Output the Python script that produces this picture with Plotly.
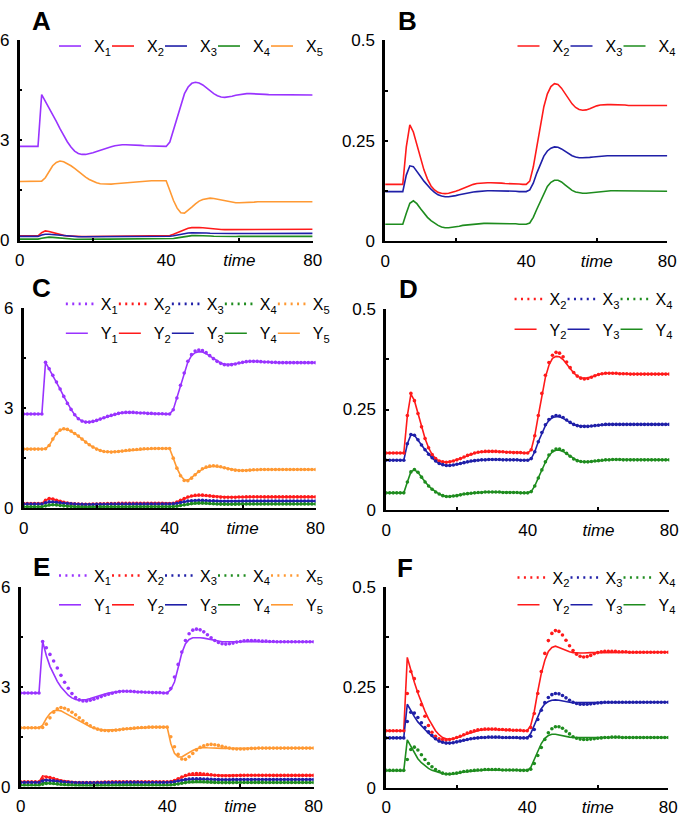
import plotly.graph_objects as go

TIME = list(range(0, 81))

# ---- X series (reference model), t = 0..80 ----
X1 = [2.82, 2.82, 2.82, 2.82, 2.82, 2.82,
      4.37, 4.18, 3.98, 3.78, 3.57, 3.35, 3.14, 2.96, 2.80, 2.68, 2.61, 2.58, 2.58, 2.60, 2.63, 2.67, 2.71, 2.75,
      2.78, 2.81, 2.84, 2.86, 2.87, 2.87, 2.87, 2.86, 2.85, 2.85, 2.84, 2.84, 2.83, 2.83, 2.83, 2.82, 2.82,
      2.95, 3.30, 3.68, 4.05, 4.40, 4.60, 4.71, 4.74, 4.72, 4.66, 4.57, 4.48, 4.40, 4.34, 4.30, 4.29, 4.30, 4.32,
      4.35, 4.37, 4.39, 4.40, 4.40, 4.40, 4.39, 4.38, 4.38, 4.37, 4.37,
      4.36, 4.36, 4.36, 4.36, 4.36, 4.36, 4.36, 4.36, 4.36, 4.36, 4.36]
X2 = [0.142, 0.142, 0.142, 0.142, 0.142, 0.142,
      0.235, 0.290, 0.272, 0.240, 0.207, 0.178, 0.155, 0.138, 0.128, 0.122, 0.120, 0.119, 0.120, 0.122, 0.125,
      0.128, 0.132, 0.136, 0.139, 0.142, 0.144, 0.145, 0.146, 0.146, 0.146, 0.146, 0.145, 0.145, 0.144, 0.144,
      0.143, 0.143, 0.143, 0.142, 0.142,
      0.150, 0.185, 0.235, 0.290, 0.335, 0.367, 0.385, 0.392, 0.390, 0.381, 0.368, 0.354, 0.342, 0.333, 0.328,
      0.326, 0.327, 0.330, 0.334, 0.337, 0.339, 0.340, 0.340, 0.340, 0.340, 0.339, 0.339, 0.339, 0.338,
      0.338, 0.338, 0.338, 0.338, 0.338, 0.338, 0.338, 0.338, 0.338, 0.338, 0.338]
X3 = [0.124, 0.124, 0.124, 0.124, 0.124, 0.124,
      0.165, 0.188, 0.186, 0.175, 0.162, 0.150, 0.139, 0.130, 0.122, 0.116, 0.113, 0.111, 0.111, 0.112, 0.114,
      0.116, 0.118, 0.120, 0.122, 0.123, 0.124, 0.125, 0.125, 0.126, 0.126, 0.126, 0.126, 0.125, 0.125, 0.125,
      0.125, 0.125, 0.124, 0.124, 0.124,
      0.128, 0.145, 0.170, 0.193, 0.212, 0.225, 0.232, 0.235, 0.234, 0.230, 0.224, 0.218, 0.213, 0.210, 0.208,
      0.208, 0.208, 0.209, 0.210, 0.211, 0.212, 0.213, 0.213, 0.213, 0.213, 0.213, 0.213, 0.213, 0.213,
      0.213, 0.213, 0.213, 0.213, 0.213, 0.213, 0.213, 0.213, 0.213, 0.213, 0.213]
X4 = [0.043, 0.043, 0.043, 0.043, 0.043, 0.043,
      0.070, 0.095, 0.101, 0.094, 0.082, 0.070, 0.060, 0.052, 0.045, 0.040, 0.036, 0.034, 0.034, 0.035, 0.036,
      0.038, 0.040, 0.041, 0.042, 0.043, 0.044, 0.044, 0.045, 0.045, 0.045, 0.045, 0.045, 0.044, 0.044, 0.044,
      0.044, 0.044, 0.043, 0.043, 0.043,
      0.046, 0.060, 0.080, 0.100, 0.120, 0.137, 0.147, 0.152, 0.152, 0.148, 0.141, 0.134, 0.127, 0.123, 0.121,
      0.120, 0.120, 0.121, 0.122, 0.123, 0.124, 0.125, 0.125, 0.126, 0.126, 0.126, 0.125, 0.125, 0.125,
      0.125, 0.125, 0.125, 0.125, 0.125, 0.125, 0.125, 0.125, 0.125, 0.125, 0.125]
X5 = [1.77, 1.77, 1.77, 1.77, 1.77, 1.77,
      1.78, 1.88, 2.07, 2.24, 2.34, 2.38, 2.36, 2.31, 2.24, 2.16, 2.07, 1.98, 1.90, 1.83, 1.77, 1.73, 1.70, 1.69,
      1.68, 1.69, 1.70, 1.71, 1.73, 1.74, 1.75, 1.76, 1.77, 1.78, 1.78, 1.79, 1.79, 1.79, 1.79, 1.79, 1.79,
      1.50, 1.20, 0.97, 0.83, 0.82, 0.90, 1.00, 1.10, 1.18, 1.23, 1.26, 1.27, 1.26, 1.24, 1.21, 1.18, 1.16, 1.14,
      1.13, 1.13, 1.13, 1.14, 1.15, 1.15, 1.16, 1.16, 1.16, 1.16, 1.16,
      1.16, 1.16, 1.16, 1.16, 1.16, 1.16, 1.16, 1.16, 1.16, 1.16, 1.16]

# ---- Y series, panels C/D ----
YC1 = [2.82, 2.82, 2.82, 2.82, 2.82, 2.82,
       4.37, 4.18, 3.98, 3.78, 3.57, 3.35, 3.14, 2.96, 2.80, 2.68, 2.61, 2.58, 2.58, 2.60, 2.63, 2.67, 2.71, 2.75,
       2.78, 2.81, 2.84, 2.86, 2.87, 2.87, 2.87, 2.86, 2.85, 2.85, 2.84, 2.84, 2.83, 2.83, 2.83, 2.82, 2.82,
       2.95, 3.30, 3.68, 4.05, 4.38, 4.57, 4.66, 4.69, 4.68, 4.63, 4.56, 4.48, 4.41, 4.35, 4.31, 4.30, 4.31, 4.33,
       4.35, 4.37, 4.39, 4.40, 4.40, 4.40, 4.39, 4.38, 4.38, 4.37, 4.37,
       4.36, 4.36, 4.36, 4.36, 4.36, 4.36, 4.36, 4.36, 4.36, 4.36, 4.36]
YC2 = [0.142, 0.142, 0.142, 0.142, 0.142, 0.142,
       0.235, 0.288, 0.272, 0.240, 0.207, 0.178, 0.155, 0.138, 0.128, 0.122, 0.120, 0.119, 0.120, 0.122, 0.125,
       0.128, 0.132, 0.136, 0.139, 0.142, 0.144, 0.145, 0.146, 0.146, 0.146, 0.146, 0.145, 0.145, 0.144, 0.144,
       0.143, 0.143, 0.143, 0.142, 0.142,
       0.150, 0.185, 0.235, 0.288, 0.330, 0.360, 0.377, 0.382, 0.381, 0.374, 0.364, 0.352, 0.341, 0.333, 0.329,
       0.328, 0.329, 0.331, 0.334, 0.337, 0.339, 0.340, 0.340, 0.340, 0.340, 0.339, 0.339, 0.339, 0.338,
       0.338, 0.338, 0.338, 0.338, 0.338, 0.338, 0.338, 0.338, 0.338, 0.338, 0.338]
YC3 = [0.124, 0.124, 0.124, 0.124, 0.124, 0.124,
       0.165, 0.187, 0.186, 0.175, 0.162, 0.150, 0.139, 0.130, 0.122, 0.116, 0.113, 0.111, 0.111, 0.112, 0.114,
       0.116, 0.118, 0.120, 0.122, 0.123, 0.124, 0.125, 0.125, 0.126, 0.126, 0.126, 0.126, 0.125, 0.125, 0.125,
       0.125, 0.125, 0.124, 0.124, 0.124,
       0.128, 0.145, 0.170, 0.192, 0.210, 0.223, 0.230, 0.232, 0.232, 0.228, 0.223, 0.217, 0.213, 0.210, 0.209,
       0.208, 0.208, 0.209, 0.210, 0.211, 0.212, 0.213, 0.213, 0.213, 0.213, 0.213, 0.213, 0.213, 0.213,
       0.213, 0.213, 0.213, 0.213, 0.213, 0.213, 0.213, 0.213, 0.213, 0.213, 0.213]
YC4 = [0.043, 0.043, 0.043, 0.043, 0.043, 0.043,
       0.070, 0.095, 0.100, 0.094, 0.082, 0.070, 0.060, 0.052, 0.045, 0.040, 0.036, 0.034, 0.034, 0.035, 0.036,
       0.038, 0.040, 0.041, 0.042, 0.043, 0.044, 0.044, 0.045, 0.045, 0.045, 0.045, 0.045, 0.044, 0.044, 0.044,
       0.044, 0.044, 0.043, 0.043, 0.043,
       0.046, 0.060, 0.080, 0.100, 0.119, 0.135, 0.145, 0.149, 0.149, 0.146, 0.140, 0.133, 0.127, 0.123, 0.121,
       0.120, 0.120, 0.121, 0.122, 0.123, 0.124, 0.125, 0.125, 0.126, 0.126, 0.126, 0.125, 0.125, 0.125,
       0.125, 0.125, 0.125, 0.125, 0.125, 0.125, 0.125, 0.125, 0.125, 0.125, 0.125]
YC5 = [1.77, 1.77, 1.77, 1.77, 1.77, 1.77,
       1.78, 1.88, 2.07, 2.24, 2.34, 2.37, 2.36, 2.31, 2.24, 2.16, 2.07, 1.98, 1.90, 1.83, 1.77, 1.73, 1.70, 1.69,
       1.68, 1.69, 1.70, 1.71, 1.73, 1.74, 1.75, 1.76, 1.77, 1.78, 1.78, 1.79, 1.79, 1.79, 1.79, 1.79, 1.79,
       1.50, 1.20, 0.98, 0.85, 0.84, 0.91, 1.01, 1.10, 1.17, 1.22, 1.25, 1.26, 1.25, 1.23, 1.21, 1.18, 1.16, 1.14,
       1.13, 1.13, 1.13, 1.14, 1.15, 1.15, 1.16, 1.16, 1.16, 1.16, 1.16,
       1.16, 1.16, 1.16, 1.16, 1.16, 1.16, 1.16, 1.16, 1.16, 1.16, 1.16]

# ---- Y series, panels E/F ----
YE1 = [2.82, 2.82, 2.82, 2.82, 2.82, 2.82,
       4.37, 3.95, 3.62, 3.38, 3.17, 3.00, 2.86, 2.75, 2.67, 2.62, 2.60, 2.60, 2.62, 2.65, 2.69, 2.73, 2.76, 2.79,
       2.82, 2.84, 2.86, 2.87, 2.87, 2.87, 2.86, 2.86, 2.85, 2.85, 2.84, 2.84, 2.83, 2.83, 2.83, 2.82, 2.82,
       2.92, 3.15, 3.58, 4.02, 4.30, 4.43, 4.48, 4.49, 4.48, 4.47, 4.45, 4.42, 4.39, 4.37, 4.36, 4.36, 4.36, 4.36,
       4.36, 4.36, 4.36, 4.36, 4.36, 4.36, 4.36, 4.36, 4.36, 4.36, 4.36,
       4.36, 4.36, 4.36, 4.36, 4.36, 4.36, 4.36, 4.36, 4.36, 4.36, 4.36]
YE2 = [0.142, 0.142, 0.142, 0.142, 0.142, 0.142,
       0.325, 0.292, 0.263, 0.236, 0.212, 0.191, 0.172, 0.155, 0.142, 0.132, 0.125, 0.122, 0.121, 0.122, 0.124,
       0.127, 0.131, 0.134, 0.137, 0.140, 0.142, 0.144, 0.145, 0.145, 0.145, 0.145, 0.144, 0.144, 0.144, 0.143,
       0.143, 0.143, 0.142, 0.142, 0.142,
       0.155, 0.190, 0.240, 0.285, 0.318, 0.340, 0.350, 0.353, 0.350, 0.346, 0.342, 0.339, 0.337, 0.336, 0.336,
       0.336, 0.337, 0.337, 0.337, 0.337, 0.338, 0.338, 0.338, 0.338, 0.338, 0.338, 0.338, 0.338, 0.338,
       0.338, 0.338, 0.338, 0.338, 0.338, 0.338, 0.338, 0.338, 0.338, 0.338, 0.338]
YE3 = [0.124, 0.124, 0.124, 0.124, 0.124, 0.124,
       0.208, 0.192, 0.177, 0.164, 0.153, 0.145, 0.136, 0.128, 0.121, 0.116, 0.113, 0.111, 0.111, 0.112, 0.114,
       0.116, 0.118, 0.120, 0.122, 0.123, 0.124, 0.125, 0.125, 0.125, 0.125, 0.125, 0.125, 0.125, 0.125, 0.125,
       0.125, 0.125, 0.124, 0.124, 0.124,
       0.135, 0.155, 0.178, 0.197, 0.209, 0.215, 0.218, 0.219, 0.218, 0.216, 0.214, 0.213, 0.212, 0.212, 0.212,
       0.213, 0.213, 0.213, 0.213, 0.213, 0.213, 0.213, 0.213, 0.213, 0.213, 0.213, 0.213, 0.213, 0.213,
       0.213, 0.213, 0.213, 0.213, 0.213, 0.213, 0.213, 0.213, 0.213, 0.213, 0.213]
YE4 = [0.042, 0.042, 0.042, 0.042, 0.042, 0.042,
       0.119, 0.102, 0.085, 0.072, 0.062, 0.054, 0.048, 0.043, 0.040, 0.037, 0.035, 0.034, 0.033, 0.034, 0.035,
       0.037, 0.039, 0.040, 0.041, 0.042, 0.043, 0.044, 0.044, 0.044, 0.044, 0.044, 0.044, 0.043, 0.043, 0.043,
       0.043, 0.043, 0.043, 0.043, 0.043,
       0.050, 0.068, 0.090, 0.110, 0.123, 0.130, 0.133, 0.133, 0.131, 0.129, 0.127, 0.126, 0.125, 0.125, 0.125,
       0.125, 0.125, 0.125, 0.125, 0.125, 0.125, 0.125, 0.125, 0.125, 0.125, 0.125, 0.125, 0.125, 0.125,
       0.125, 0.125, 0.125, 0.125, 0.125, 0.125, 0.125, 0.125, 0.125, 0.125, 0.125]
YE5 = [1.77, 1.77, 1.77, 1.77, 1.77, 1.77,
       1.85, 2.05, 2.20, 2.28, 2.30, 2.28, 2.22, 2.16, 2.10, 2.03, 1.96, 1.90, 1.85, 1.80, 1.76, 1.73, 1.71, 1.70,
       1.70, 1.70, 1.71, 1.72, 1.73, 1.74, 1.75, 1.76, 1.77, 1.78, 1.78, 1.79, 1.79, 1.79, 1.79, 1.79, 1.79,
       1.30, 1.00, 0.89, 0.89, 0.96, 1.03, 1.09, 1.14, 1.17, 1.18, 1.17, 1.16, 1.15, 1.15, 1.15, 1.15, 1.15, 1.15,
       1.15, 1.15, 1.15, 1.15, 1.15, 1.15, 1.16, 1.16, 1.16, 1.16, 1.16,
       1.16, 1.16, 1.16, 1.16, 1.16, 1.16, 1.16, 1.16, 1.16, 1.16, 1.16]

for s in (X1, X2, X3, X4, X5, YC1, YC2, YC3, YC4, YC5, YE1, YE2, YE3, YE4, YE5):
    assert len(s) == len(TIME), len(s)

X_ALL = [X1, X2, X3, X4, X5]
YC_ALL = [YC1, YC2, YC3, YC4, YC5]
YE_ALL = [YE1, YE2, YE3, YE4, YE5]
IDX = [1, 2, 3, 4, 5]
COLORS = ["#9933ff", "#ff1a1a", "#1f1fa8", "#1e8c1e", "#ff9933"]
PANELS = ["A", "B", "C", "D", "E", "F"]
BIG_TICKS = [0, 3, 6]
BIG_TEXT = ["0", "3", "6"]
BIG_MINOR = [1.5, 4.5]
SMALL_TICKS = [0, 0.25, 0.5]
SMALL_TEXT = ["0", "0.25", "0.5"]
SMALL_MINOR = [0.125, 0.375]
X_TICKS = [0, 40, 60, 80]
X_TEXT = ["0", "40", "<i>time</i>", "80"]
X_MINOR = [20, 60]

W, H = 691, 822
FONT = "Liberation Sans, Arial, sans-serif"

# axes boxes in pixels: (left, right, top, bottom)
BOXES = [(15, 314, 32, 237), (388, 676, 32, 238),
         (19, 317, 306, 511), (389, 678, 307, 513),
         (16, 315, 592, 796), (389, 677, 592, 797)]

fig = go.Figure()
LW = 1.6
DOT = "2px,4.4px"
SOLID_KEY = "22px,80px"   # legend key drawn 22px long


def ax_names(k):
    return ("x" if k == 0 else f"x{k+1}"), ("y" if k == 0 else f"y{k+1}")


def add_lines(k, series, members, legend, prefix):
    xa, ya = ax_names(k)
    for i in members:
        fig.add_trace(go.Scatter(
            x=TIME, y=series[i], mode="lines", xaxis=xa, yaxis=ya,
            line=dict(color=COLORS[i], width=LW),
            name=f"{prefix}<sub>{IDX[i]}</sub>", showlegend=False))
    for i in members:
        fig.add_trace(go.Scatter(
            x=[None], y=[None], mode="lines", xaxis=xa, yaxis=ya,
            line=dict(color=COLORS[i], width=LW, dash=SOLID_KEY),
            name=f"{prefix}<sub>{IDX[i]}</sub>", legend=legend,
            legendwidth=(22 if i == members[-1] else 8), showlegend=True))


def add_dots(k, members, legend):
    xa, ya = ax_names(k)
    for i in members:
        fig.add_trace(go.Scatter(
            x=TIME, y=X_ALL[i], mode="markers", xaxis=xa, yaxis=ya,
            marker=dict(color=COLORS[i], size=3.6, line=dict(width=0)),
            name=f"X<sub>{IDX[i]}</sub>", showlegend=False))
    for i in members:
        fig.add_trace(go.Scatter(
            x=[None], y=[None], mode="lines", xaxis=xa, yaxis=ya,
            line=dict(color=COLORS[i], width=2.6, dash=DOT),
            name=f"X<sub>{IDX[i]}</sub>", legend=legend,
            legendwidth=(22 if i == members[-1] else 8), showlegend=True))


ALL5 = [0, 1, 2, 3, 4]
MID3 = [1, 2, 3]

# A, B
add_lines(0, X_ALL, ALL5, "legend", "X")
add_lines(1, X_ALL, MID3, "legend2", "X")
# C, D
add_lines(2, YC_ALL, ALL5, "legend4", "Y")
add_dots(2, ALL5, "legend3")
add_lines(3, YC_ALL, MID3, "legend6", "Y")
add_dots(3, MID3, "legend5")
# E, F
add_lines(4, YE_ALL, ALL5, "legend8", "Y")
add_dots(4, ALL5, "legend7")
add_lines(5, YE_ALL, MID3, "legend10", "Y")
add_dots(5, MID3, "legend9")

layout = dict(width=W, height=H, margin=dict(l=0, r=0, t=0, b=0),
              paper_bgcolor="white", plot_bgcolor="white",
              font=dict(family=FONT, color="black", size=16))

for k, (l, r, t, b) in enumerate(BOXES):
    xa, ya = ax_names(k)
    xkey = "xaxis" if k == 0 else f"xaxis{k+1}"
    ykey = "yaxis" if k == 0 else f"yaxis{k+1}"
    big = k % 2 == 0
    layout[xkey] = dict(domain=[l / W, r / W], range=[0, 80], anchor=ya,
                        showline=True, linecolor="black", linewidth=2,
                        showgrid=False, zeroline=False,
                        tickvals=X_TICKS, ticktext=X_TEXT, ticks="",
                        minor=dict(tickvals=X_MINOR, ticks="inside", ticklen=3,
                                   tickwidth=2, tickcolor="black", showgrid=False),
                        ticklabelstandoff=3,
                        tickfont=dict(size=17, family=FONT, color="black"),
                        fixedrange=True)
    layout[ykey] = dict(domain=[1 - b / H, 1 - t / H],
                        range=[0, 6] if big else [0, 0.5], anchor=xa,
                        showline=True, linecolor="black", linewidth=2.5,
                        showgrid=False, zeroline=False,
                        tickvals=BIG_TICKS if big else SMALL_TICKS,
                        ticktext=BIG_TEXT if big else SMALL_TEXT,
                        ticks="inside", ticklen=3, tickwidth=2, tickcolor="black",
                        minor=dict(tickvals=BIG_MINOR if big else SMALL_MINOR,
                                   ticks="inside", ticklen=3, tickwidth=2,
                                   tickcolor="black", showgrid=False),
                        ticklabelstandoff=4,
                        tickfont=dict(size=17, family=FONT, color="black"),
                        fixedrange=True)

# legends: (name, left px, center y px)
LEGENDS = [("legend", 50, 38), ("legend2", 518, 38),
           ("legend3", 57, 302), ("legend4", 57, 332),
           ("legend5", 515, 297), ("legend6", 515, 328),
           ("legend7", 50, 580), ("legend8", 50, 610),
           ("legend9", 518, 582), ("legend10", 518, 610)]
for name, lx, ly in LEGENDS:
    layout[name] = dict(orientation="h", x=lx / W, xanchor="left",
                        y=1 - ly / H, yanchor="middle",
                        bgcolor="rgba(0,0,0,0)", borderwidth=0,
                        font=dict(size=16, family=FONT, color="black"),
                        itemwidth=30, tracegroupgap=0)

ann = []
LETTER_POS = [(37, 12), (411, 12), (37, 286), (412, 287), (37, 571), (408, 572)]
for letter, (px, py) in zip(PANELS, LETTER_POS):
    ann.append(dict(text=f"<b>{letter}</b>", x=px / W, y=1 - py / H,
                    xref="paper", yref="paper", showarrow=False,
                    xanchor="center", yanchor="middle",
                    font=dict(size=26, family=FONT, color="black")))
layout["annotations"] = ann

fig.update_layout(**layout)
fig.write_html("out.html")
